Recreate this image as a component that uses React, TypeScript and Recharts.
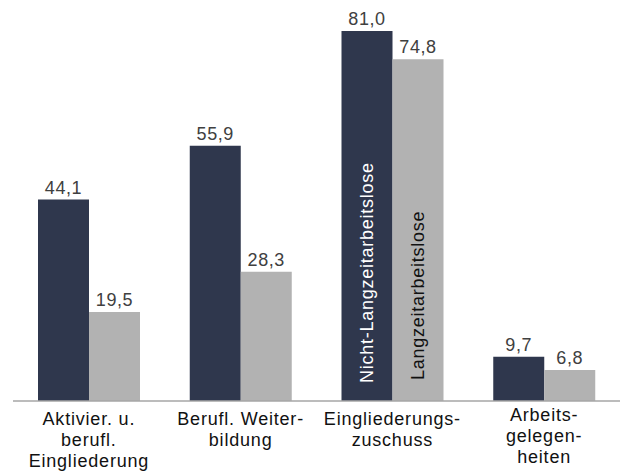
import React from 'react';
import { BarChart, Bar, XAxis, YAxis, LabelList } from 'recharts';

const categories = [
  'Aktivier. u.\nberufl.\nEingliederung',
  'Berufl. Weiter-\nbildung',
  'Eingliederungs-\nzuschuss',
  'Arbeits-\ngelegen-\nheiten',
];
const nichtLangzeit = [44.1, 55.9, 81.0, 9.7];
const langzeit = [19.5, 28.3, 74.8, 6.8];
const seriesNames = ['Nicht-Langzeitarbeitslose', 'Langzeitarbeitslose'];
const legendIndex = 2;

const data = categories.map((c, i) => ({ cat: c, a: nichtLangzeit[i], b: langzeit[i] }));

const FONT = '"Liberation Sans", Arial, sans-serif';
const DARK = '#2f374d';
const GRAY = '#b2b2b2';

const fmt = (v: any) => Number(v).toFixed(1).replace('.', ',');

const Tick = (props: any) => {
  const { x, y, payload, index } = props;
  const lines = String(payload.value).split('\n');
  const shift = index === 3 ? -4 : 0;
  return (
    <text x={x} y={y + 24 + shift} textAnchor="middle" fontFamily={FONT} fontSize={18} letterSpacing={0.8} fill="#111">
      {lines.map((l, i) => (
        <tspan key={i} x={x} dy={i === 0 ? 0 : 21}>{l}</tspan>
      ))}
    </text>
  );
};

const makeLegendLabel = (name: string, color: string, bottomGap: number) => (props: any) => {
  const { x, y, width, height, index } = props;
  if (index !== legendIndex) return null;
  const cx = Number(x) + Number(width) / 2;
  const by = Number(y) + Number(height) - bottomGap;
  return (
    <text
      x={cx}
      y={by}
      transform={`rotate(-90, ${cx}, ${by})`}
      textAnchor="start"
      dy="0.36em"
      fontFamily={FONT}
      fontSize={18}
      letterSpacing={0.75}
      fill={color}
    >
      {name}
    </text>
  );
};

export default function App() {
  return (
    <div style={{ position: 'absolute', left: 0, top: 0, background: '#fff' }}>
      <BarChart
        width={620}
        height={472}
        data={data}
        margin={{ top: 31, right: 0, left: 13, bottom: 0 }}
        barGap={0}
        barSize={51}
      >
        <XAxis
          dataKey="cat"
          interval={0}
          height={71}
          tickLine={false}
          tickSize={0}
          tickMargin={0}
          axisLine={{ stroke: '#a6a6a6', strokeWidth: 1.5 }}
          tick={<Tick />}
        />
        <YAxis hide domain={[0, 81]} />
        <Bar dataKey="a" fill={DARK} isAnimationActive={false}>
          <LabelList dataKey="a" position="top" offset={6} formatter={fmt} fontFamily={FONT} fontSize={18} letterSpacing={0.6} fill="#404040" />
          <LabelList dataKey="a" content={makeLegendLabel(seriesNames[0], '#ffffff', 18)} />
        </Bar>
        <Bar dataKey="b" fill={GRAY} isAnimationActive={false}>
          <LabelList dataKey="b" position="top" offset={6} formatter={fmt} fontFamily={FONT} fontSize={18} letterSpacing={0.6} fill="#404040" />
          <LabelList dataKey="b" content={makeLegendLabel(seriesNames[1], '#111111', 21)} />
        </Bar>
      </BarChart>
    </div>
  );
}
